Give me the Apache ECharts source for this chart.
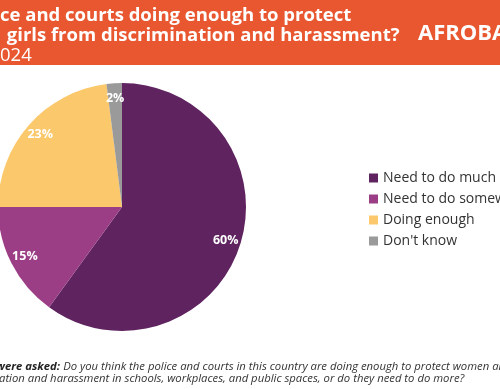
<!DOCTYPE html>
<html><head><meta charset="utf-8">
<script src="https://cdn.jsdelivr.net/npm/echarts@6/dist/echarts.min.js"></script>
<style>html,body{margin:0;padding:0;background:#fff}#c{width:500px;height:389px}</style>
</head><body><div id="c"></div>
<script>
const categories = ['Need to do much more', 'Need to do somewhat more', 'Doing enough', "Don't know"];
const values = [60, 15, 23, 2];
const colors = ['#5f2360', '#9b3e85', '#fbc86b', '#9a9a9a'];
const titleLines = ['ce and courts doing enough to protect', ' girls from discrimination and harassment?', '024'];

const data = categories.map((n, i) => ({ name: n, value: values[i], itemStyle: { color: colors[i] } }));
const chart = echarts.init(document.getElementById('c'));
const font = 'Open Sans';
chart.setOption({
  backgroundColor: '#fff',
  animation: false,
  legend: {
    orient: 'vertical', left: 364, top: 166, itemWidth: 9, itemHeight: 9, itemGap: 7,
    icon: 'rect',
    textStyle: { fontFamily: font, fontSize: 14, color: '#333' },
    data: categories
  },
  graphic: [
    { type: 'rect', shape: { x: 0, y: 0, width: 500, height: 65 }, style: { fill: '#e8572f' }, silent: true },
    { type: 'text', left: 0, top: 6, style: { text: titleLines[0], fill: '#fff', font: 'bold 18.5px ' + font } },
    { type: 'text', left: 2, top: 26, style: { text: titleLines[1], fill: '#fff', font: 'bold 18.5px ' + font } },
    { type: 'text', left: 0, top: 46, style: { text: titleLines[2], fill: '#fff', font: '18.5px ' + font } },
    { type: 'text', left: 418, top: 23, style: { text: 'AFROBAROMETER', fill: '#fff', font: 'bold 22px ' + font } },
    { type: 'text', left: -4, top: 361, style: {
      rich: { b: { fontFamily: font, fontWeight: 'bold', fontStyle: 'italic', fontSize: 11.3, fill: '#222' },
              n: { fontFamily: font, fontStyle: 'italic', fontSize: 11.3, fill: '#333' } },
      text: '{b|were asked:} {n|Do you think the police and courts in this country are doing enough to protect women and}', fill: '#333' } },
    { type: 'text', left: -1, top: 373, style: { text: 'ation and harassment in schools, workplaces, and public spaces, or do they need to do more?', font: 'italic 11.3px ' + font, fill: '#333' } }
  ],
  series: [
    { type: 'pie', center: [122, 207], radius: 124, startAngle: 90, clockwise: true, silent: true,
      label: { show: false }, labelLine: { show: false }, data: data },
    { type: 'pie', center: [122, 207], radius: [88, 124], startAngle: 90, clockwise: true, silent: true,
      itemStyle: { color: 'transparent' }, labelLine: { show: false },
      label: { show: true, position: 'inside', formatter: '{c}%', color: '#fff', fontFamily: font, fontWeight: 'bold', fontSize: 12.5 },
      data: categories.map((n, i) => ({ name: n, value: values[i], itemStyle: { color: 'transparent' } })) }
  ]
});
</script></body></html>
